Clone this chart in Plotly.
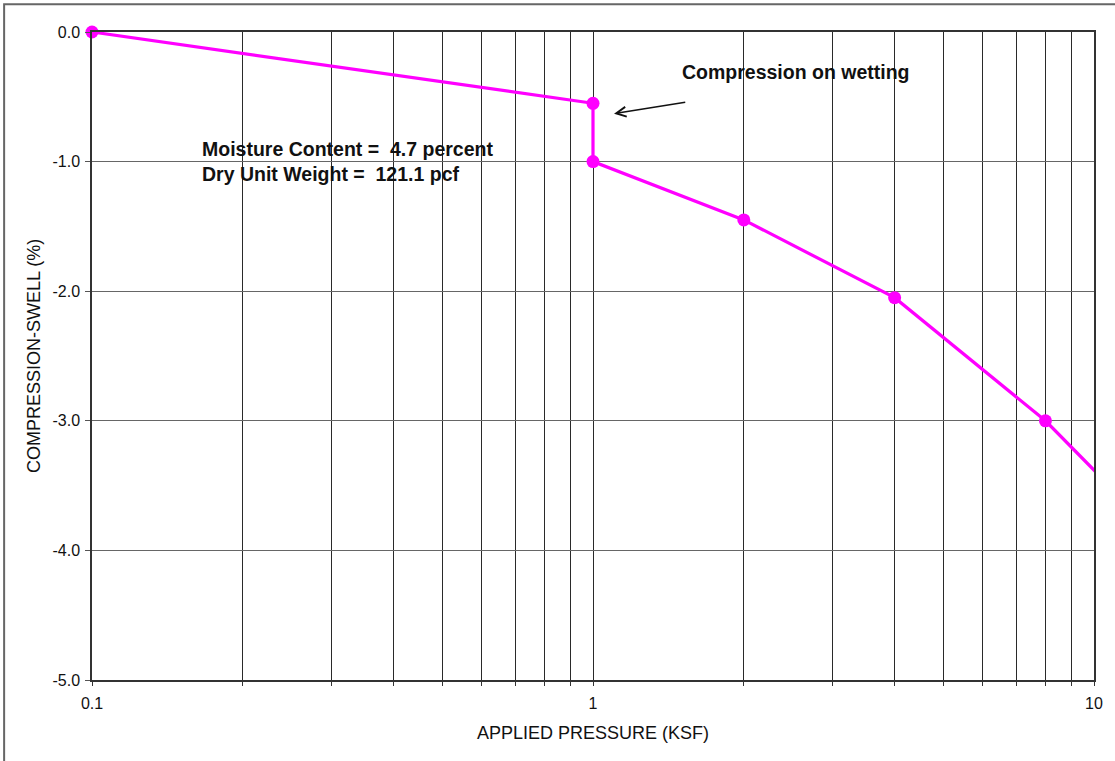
import plotly.graph_objects as go

# ---- data ----
pressure_ksf = [0.1, 1.0, 1.0, 2.0, 4.0, 8.0]
compression_pct = [0.0, -0.55, -1.0, -1.45, -2.05, -3.0]
# trend line continues past the last reading (clipped at the axis edge)
trend_x = [0.1, 1.0, 1.0, 2.0, 4.0, 8.0, 10.33]
trend_y = [0.0, -0.55, -1.0, -1.45, -2.05, -3.0, -3.436]

x_tickvals = [0.1, 0.2, 0.3, 0.4, 0.5, 0.6, 0.7, 0.8, 0.9,
              1, 2, 3, 4, 5, 6, 7, 8, 9, 10]
x_ticktext = ["0.1", "", "", "", "", "", "", "", "",
              "1", "", "", "", "", "", "", "", "", "10"]
y_tickvals = [0.0, -1.0, -2.0, -3.0, -4.0, -5.0]
y_ticktext = ["0.0", "-1.0", "-2.0", "-3.0", "-4.0", "-5.0"]

x_title = "APPLIED PRESSURE (KSF)"
y_title = "COMPRESSION-SWELL (%)"
note_lines = ["Moisture Content =  4.7 percent", "Dry Unit Weight =  121.1 pcf"]
arrow_text = "Compression on wetting"

FONT = "Liberation Sans, Arial, sans-serif"
MAG = "#FF00FF"

fig = go.Figure()
fig.add_trace(go.Scatter(x=trend_x, y=trend_y, mode="lines",
                         line=dict(color=MAG, width=3.2), showlegend=False,
                         hoverinfo="skip"))
fig.add_trace(go.Scatter(x=pressure_ksf, y=compression_pct, mode="markers",
                         marker=dict(color=MAG, size=13), showlegend=False,
                         cliponaxis=False))

fig.update_layout(
    width=1115, height=761,
    margin=dict(l=92, r=21, t=32, b=81),
    paper_bgcolor="white", plot_bgcolor="white",
    font=dict(family=FONT, color="#111111", size=16),
    showlegend=False,
    xaxis=dict(type="log", range=[-1, 1], tickvals=x_tickvals, ticktext=x_ticktext,
               ticks="outside", ticklen=4, tickcolor="#333333", tickwidth=1,
               showgrid=True, gridcolor="#2a2a2a", gridwidth=1,
               showline=True, linecolor="#333333", linewidth=1.5, mirror=True,
               tickfont=dict(size=16), ticklabelstandoff=4, zeroline=False),
    yaxis=dict(range=[-5, 0], tickvals=y_tickvals, ticktext=y_ticktext,
               ticks="outside", ticklen=5, tickcolor="#555555", tickwidth=1,
               showgrid=True, gridcolor="#666666", gridwidth=1,
               showline=True, linecolor="#333333", linewidth=1.5, mirror=True,
               tickfont=dict(size=16), ticklabelstandoff=2, zeroline=False),
)

# white box behind the sample note (hides gridlines)
fig.add_shape(type="rect", xref="paper", yref="paper",
              x0=0.1026, x1=0.4588, y0=0.6978, y1=0.8407,
              fillcolor="white", line=dict(width=0), layer="between")

# outer border of the figure
fig.add_shape(type="rect", xref="paper", yref="paper",
              x0=-0.0877, x1=1.03, y0=-0.14, y1=1.0427,
              line=dict(color="#666666", width=2), fillcolor="rgba(0,0,0,0)",
              layer="above")

fig.add_annotation(xref="paper", yref="paper", x=0.1075, y=0.8002,
                   xanchor="left", yanchor="middle", align="left",
                   text="<br>".join("<b>" + s + "</b>" for s in note_lines),
                   showarrow=False, font=dict(size=19.5, color="#111111"))

fig.add_annotation(xref="paper", yref="paper", x=0.587, y=0.939,
                   xanchor="left", yanchor="middle",
                   text="<b>" + arrow_text + "</b>",
                   showarrow=False, font=dict(size=19.5, color="#111111"))

fig.add_annotation(xref="paper", yref="paper", x=0.521, y=0.874,
                   ax=72.7, ay=-11.6, axref="pixel", ayref="pixel",
                   text="", showarrow=True, arrowhead=5, arrowsize=1.3,
                   arrowwidth=1.5, arrowcolor="#111111")

fig.add_annotation(xref="paper", yref="paper", x=0.5, y=0, yanchor="middle",
                   yshift=-53, text=x_title, showarrow=False,
                   font=dict(size=18, color="#111111"))
fig.add_annotation(xref="paper", yref="paper", x=0, y=0.5, xanchor="center",
                   xshift=-58, text=y_title, textangle=-90, showarrow=False,
                   font=dict(size=18, color="#111111"))

fig.write_html("out.html",
               config={"displayModeBar": False},
               post_script="document.body.style.margin='0';"
                           "document.body.style.overflow='hidden';")
